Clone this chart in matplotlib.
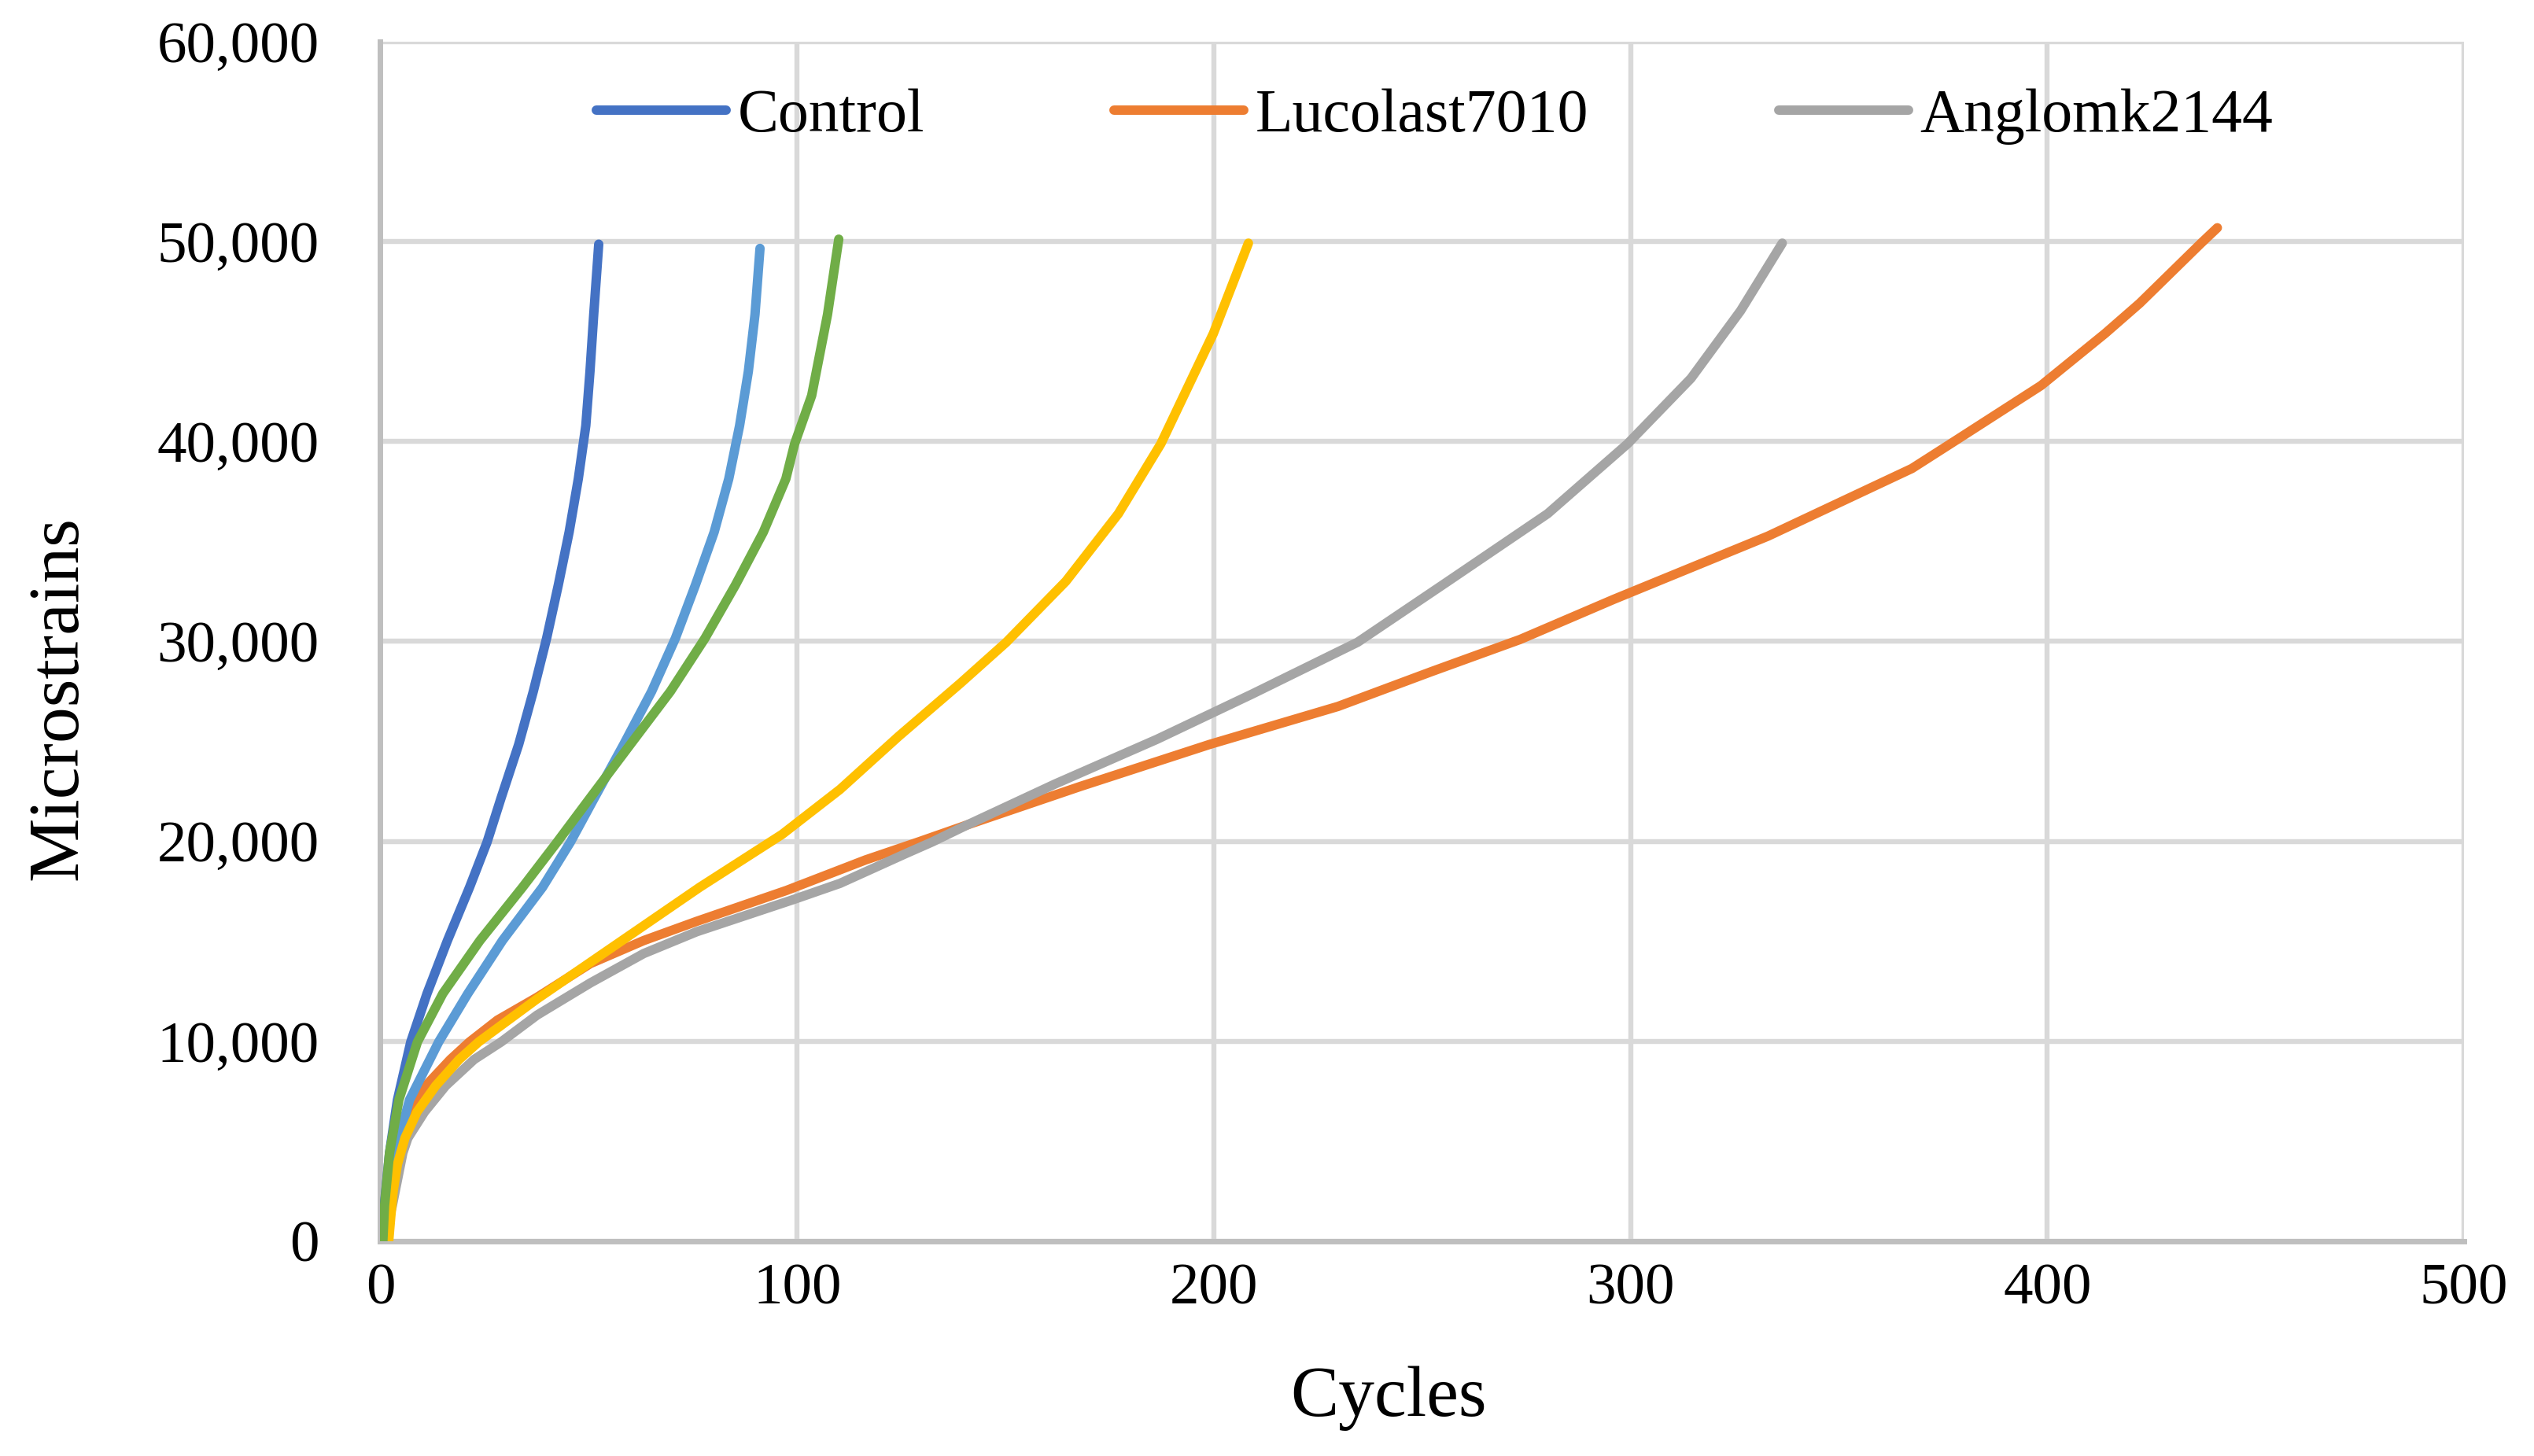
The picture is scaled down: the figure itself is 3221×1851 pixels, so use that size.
import matplotlib.pyplot as plt
from matplotlib.ticker import FuncFormatter

plt.rcParams['font.family'] = ['Liberation Serif', 'DejaVu Serif']

# data (cycles, microstrains)
control_x = [0.6, 0.94, 2.2, 4.1, 7.3, 11.2, 16.1, 21.4, 25.6, 29, 33.2, 36.7, 39.9, 42.7, 45.3, 47.5, 49.3, 50.3, 51.2, 52.4]
control_y = [0, 1760, 4420, 7070, 9970, 12390, 15040, 17700, 19960, 22190, 24850, 27500, 30160, 32820, 35470, 38130, 40790, 43500, 46350, 49870]

luco_x = [0.7, 1.3, 2.3, 3.5, 5.0, 7.1, 10.9, 16.8, 21.4, 28.1, 37.6, 50.4, 63.2, 75.9, 97.5, 116.4, 129.1, 140.9, 168, 199, 229.8,
          252.2, 273.5, 296, 333, 367.5, 376.8, 398.5, 413.9, 422.2, 436.8, 440.8]
luco_y = [0, 1500, 2800, 3850, 5160, 6470, 7780, 9090, 9970, 11060, 12200, 13890, 15040, 16000, 17550, 19070, 19970, 20830, 22750, 24850, 26750,
          28490, 30100, 32110, 35270, 38650, 39890, 42800, 45410, 46920, 49900, 50690]

angl_x = [0.7, 2.85, 5.4, 6.6, 10.6, 15.7, 22.5, 29, 37.6, 50.4, 63.2, 75.9, 99.4, 110.3, 126.3, 132.4, 140.9, 161.9, 186.4, 209.2,
          234.5, 256.2, 280.1, 299.3, 314.5, 326.4, 336.4]
angl_y = [0, 1760, 4420, 5160, 6470, 7780, 9090, 9970, 11310, 12920, 14390, 15480, 17110, 17900, 19410, 19970, 20830, 22870, 25110, 27370,
          29960, 33010, 36390, 39890, 43160, 46540, 49920]

lblue_x = [0.6, 1.9, 3.5, 7, 14, 21, 29.3, 38.9, 45.6, 51.4, 58.4, 65.1, 70.8, 75.6, 80.1, 83.6, 86.2, 88.3, 89.9, 91.1]
lblue_y = [0, 1760, 4420, 7070, 9970, 12390, 15040, 17700, 19960, 22190, 24850, 27500, 30160, 32820, 35470, 38130, 40790, 43500, 46350, 49660]

yellow_x = [2.0, 2.5, 3.1, 4.1, 5.9, 8.8, 13.3, 18.9, 23.6, 37.6, 58, 76.6, 96.4, 110.3, 124.4, 139.2, 150.2, 164.5, 177.1, 187.3, 199.9, 208.3]
yellow_y = [0, 1230, 2540, 3850, 5160, 6470, 7780, 9090, 9970, 12120, 15040, 17700, 20350, 22600, 25260, 27910, 29960, 33010, 36390, 39890, 45410, 49920]

green_x = [0.6, 1.0, 2.2, 4.45, 8.9, 15, 23.9, 34.1, 42.4, 50.4, 60, 69.6, 77.9, 85.2, 91.9, 97.3, 99.4, 103.5, 107.3, 110]
green_y = [0, 1760, 4420, 7070, 9970, 12390, 15040, 17700, 19960, 22190, 24850, 27500, 30160, 32820, 35470, 38130, 39880, 42300, 46350, 50120]

x_ticks = [0, 100, 200, 300, 400, 500]
y_ticks = [0, 10000, 20000, 30000, 40000, 50000, 60000]

fig = plt.figure(figsize=(32.21, 18.51), dpi=100)
ax = fig.add_axes([0.1501, 0.1475, 0.8223, 0.8239])

lw = 8.6
ax.plot(control_x, control_y, color='#4472C4', lw=lw, solid_capstyle='round', solid_joinstyle='round', label='Control', zorder=3)
ax.plot(luco_x, luco_y, color='#ED7D31', lw=lw, solid_capstyle='round', solid_joinstyle='round', label='Lucolast7010', zorder=3)
ax.plot(angl_x, angl_y, color='#A5A5A5', lw=lw, solid_capstyle='round', solid_joinstyle='round', label='Anglomk2144', zorder=3)
ax.plot(lblue_x, lblue_y, color='#5B9BD5', lw=lw, solid_capstyle='round', solid_joinstyle='round', zorder=3)
ax.plot(yellow_x, yellow_y, color='#FFC000', lw=lw, solid_capstyle='round', solid_joinstyle='round', zorder=3)
ax.plot(green_x, green_y, color='#70AD47', lw=lw, solid_capstyle='round', solid_joinstyle='round', zorder=3)

ax.set_xlim(0, 500)
ax.set_ylim(0, 60000)
ax.set_xticks(x_ticks)
ax.set_yticks(y_ticks)
ax.yaxis.set_major_formatter(FuncFormatter(lambda v, p: '{:,.0f}'.format(v)))
ax.tick_params(length=0, labelsize=54)
ax.tick_params(axis='y', pad=56)
ax.tick_params(axis='x', pad=20)
ax.grid(True, color='#D9D9D9', lw=4.6, zorder=0)
ax.set_axisbelow(True)
for s in ['top', 'right']:
    ax.spines[s].set_visible(False)
for s in ['left', 'bottom']:
    ax.spines[s].set_color('#BFBFBF')
    ax.spines[s].set_linewidth(5)

ax.set_xlabel('Cycles', fontsize=66)
ax.xaxis.set_label_coords(0.484, -0.104)
ax.set_ylabel('Microstrains', fontsize=66, va='center')
ax.yaxis.set_label_coords(-0.154, 0.453)

ax.legend(loc='upper center', bbox_to_anchor=(0.506, 1.007), ncol=3, frameon=False,
          fontsize=56, handlelength=2.12, handletextpad=0.19, columnspacing=3.1)

fig.savefig('out.png', dpi=100)
